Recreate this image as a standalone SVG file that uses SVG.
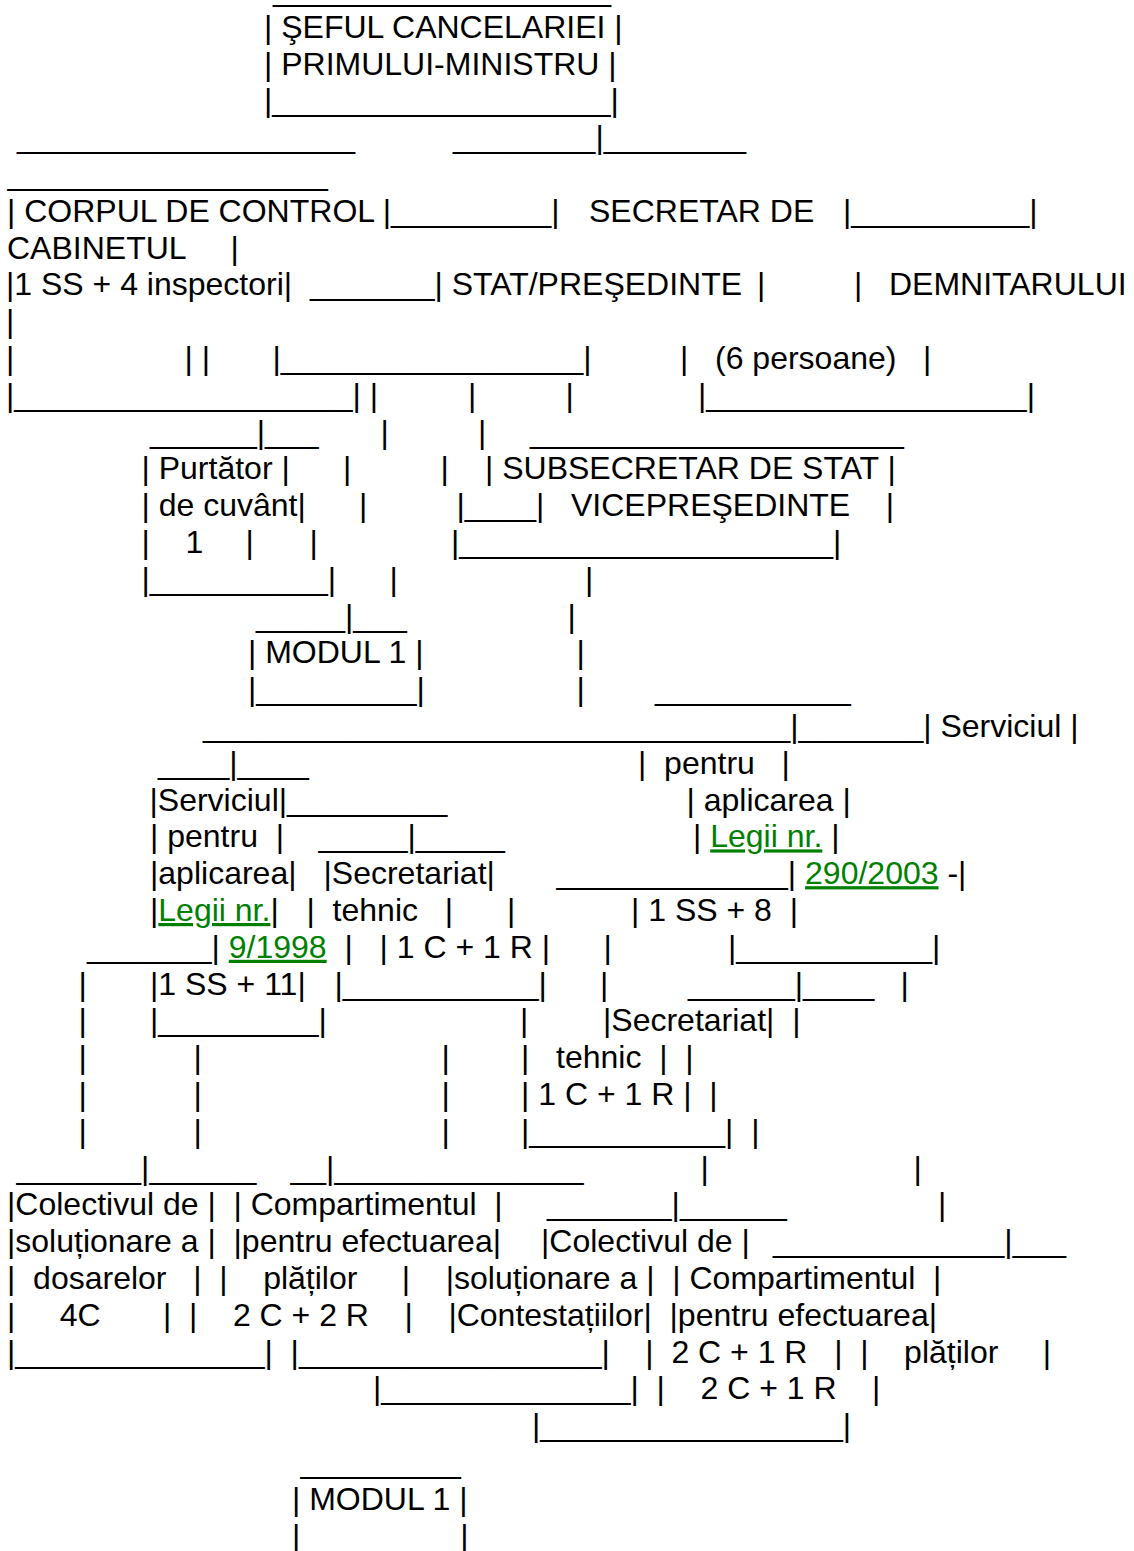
<svg xmlns="http://www.w3.org/2000/svg" width="1134" height="1551" viewBox="0 0 1134 1551">
<style>
text { font-family: "Liberation Sans", Arial, sans-serif; font-size: 32px; fill: #000000; white-space: pre; }
.lk { fill: #008000; text-decoration: underline; }
</style>
<rect x="0" y="0" width="1134" height="1551" fill="#ffffff"/>
<g id="org-chart-ascii">
<text id="r00" y="1"><tspan x="273">___________________</tspan></text>
<text id="r01" y="37.8"><tspan x="264">| ŞEFUL CANCELARIEI |</tspan></text>
<text id="r02" y="74.6"><tspan x="264">| PRIMULUI-MINISTRU |</tspan></text>
<text id="r03" y="111.4"><tspan x="264">|___________________|</tspan></text>
<text id="r04" y="148.2"><tspan x="17">___________________</tspan><tspan x="453">________|________</tspan></text>
<text id="r05" y="185"><tspan x="7.5">__________________</tspan></text>
<text id="r06" y="221.8"><tspan x="7">| CORPUL DE CONTROL |_________|</tspan><tspan x="589">SECRETAR DE</tspan><tspan x="843">|__________|</tspan></text>
<text id="r07" y="258.6"><tspan x="7">CABINETUL</tspan><tspan x="230.5">|</tspan></text>
<text id="r08" y="295.4"><tspan x="6">|1 SS + 4 inspectori|  _______| STAT/PREŞEDINTE</tspan><tspan x="757">|</tspan><tspan x="854">|   DEMNITARULUI</tspan></text>
<text id="r09" y="332.2"><tspan x="6">|</tspan></text>
<text id="r10" y="369"><tspan x="6">|</tspan><tspan x="184.5">| |</tspan><tspan x="272.5">|_________________|</tspan><tspan x="680">|   (6 persoane)   |</tspan></text>
<text id="r11" y="405.8"><tspan x="6">|___________________| |</tspan><tspan x="468">|</tspan><tspan x="565.5">|</tspan><tspan x="698">|__________________|</tspan></text>
<text id="r12" y="442.6"><tspan x="150">______|___</tspan><tspan x="380.5">|</tspan><tspan x="478">|</tspan><tspan x="530">_____________________</tspan></text>
<text id="r13" y="479.4"><tspan x="141.5">| Purtător |</tspan><tspan x="343">|</tspan><tspan x="440.5">|</tspan><tspan x="485">| SUBSECRETAR DE STAT |</tspan></text>
<text id="r14" y="516.2"><tspan x="141.5">| de cuvânt|</tspan><tspan x="359">|</tspan><tspan x="456.5">|____|   VICEPREŞEDINTE    |</tspan></text>
<text id="r15" y="553"><tspan x="141.5">|    1</tspan><tspan x="245.5">|</tspan><tspan x="309.5">|</tspan><tspan x="451">|_____________________|</tspan></text>
<text id="r16" y="589.8"><tspan x="141.5">|__________|</tspan><tspan x="389.5">|</tspan><tspan x="585">|</tspan></text>
<text id="r17" y="626.6"><tspan x="256">_____|___</tspan><tspan x="567.5">|</tspan></text>
<text id="r18" y="663.4"><tspan x="248">| MODUL 1 |</tspan><tspan x="576.5">|</tspan></text>
<text id="r19" y="700.2"><tspan x="248">|_________|</tspan><tspan x="576.5">|</tspan><tspan x="655">___________</tspan></text>
<text id="r20" y="737"><tspan x="203">_________________________________|_______| Serviciul |</tspan></text>
<text id="r21" y="773.8"><tspan x="158">____|____</tspan><tspan x="638">|  pentru   |</tspan></text>
<text id="r22" y="810.6"><tspan x="149.5">|Serviciul|_________</tspan><tspan x="686.5">| aplicarea |</tspan></text>
<text id="r23" y="847.4"><tspan x="150">| pentru  |</tspan><tspan x="318.5">_____|_____</tspan><tspan x="693">| </tspan><tspan class="lk">Legii nr.</tspan><tspan> |</tspan></text>
<text id="r24" y="884.2"><tspan x="150">|aplicarea|</tspan><tspan x="323.5">|Secretariat|</tspan><tspan x="556.5">_____________| </tspan><tspan class="lk">290/2003</tspan><tspan> -|</tspan></text>
<text id="r25" y="921"><tspan x="150">|</tspan><tspan class="lk">Legii nr.</tspan><tspan>|</tspan><tspan x="306.5">|  tehnic   |</tspan><tspan x="507">|</tspan><tspan x="631">| 1 SS + 8  |</tspan></text>
<text id="r26" y="957.8"><tspan x="87">_______| </tspan><tspan class="lk">9/1998</tspan><tspan>  |</tspan><tspan x="379.5">| 1 C + 1 R |</tspan><tspan x="603.5">|</tspan><tspan x="728">|___________|</tspan></text>
<text id="r27" y="994.6"><tspan x="78.5">|</tspan><tspan x="150">|1 SS + 11|</tspan><tspan x="334.5">|___________|</tspan><tspan x="600">|</tspan><tspan x="688">______|____</tspan><tspan x="900.5">|</tspan></text>
<text id="r28" y="1031.4"><tspan x="78.5">|</tspan><tspan x="150">|_________|</tspan><tspan x="520">|</tspan><tspan x="603">|Secretariat|  |</tspan></text>
<text id="r29" y="1068.2"><tspan x="78.5">|</tspan><tspan x="193.5">|</tspan><tspan x="441.5">|</tspan><tspan x="521">|   tehnic  |  |</tspan></text>
<text id="r30" y="1105"><tspan x="78.5">|</tspan><tspan x="193.5">|</tspan><tspan x="441.5">|</tspan><tspan x="521">| 1 C + 1 R |  |</tspan></text>
<text id="r31" y="1141.8"><tspan x="78.5">|</tspan><tspan x="193.5">|</tspan><tspan x="441.5">|</tspan><tspan x="521">|___________|  |</tspan></text>
<text id="r32" y="1178.6"><tspan x="16.5">_______|______</tspan><tspan x="290.5">__|______________</tspan><tspan x="700.5">|</tspan><tspan x="913.5">|</tspan></text>
<text id="r33" y="1215.4"><tspan x="7">|Colectivul de |  | Compartimentul  |</tspan><tspan x="547">_______|______</tspan><tspan x="938">|</tspan></text>
<text id="r34" y="1252.2"><tspan x="7">|soluționare a |  |pentru efectuarea|</tspan><tspan x="541">|Colectivul de |</tspan><tspan x="773">_____________|___</tspan></text>
<text id="r35" y="1289"><tspan x="7">|  dosarelor   |  |    plăților     |    |soluționare a |  | Compartimentul  |</tspan></text>
<text id="r36" y="1325.8"><tspan x="7">|     4C       |  |    2 C + 2 R    |    |Contestațiilor|  |pentru efectuarea|</tspan></text>
<text id="r37" y="1362.6"><tspan x="7">|______________|  |_________________|    |  2 C + 1 R   |  |    plăților     |</tspan></text>
<text id="r38" y="1399.4"><tspan x="373">|______________|  |    2 C + 1 R    |</tspan></text>
<text id="r39" y="1436.2"><tspan x="532">|_________________|</tspan></text>
<text id="r40" y="1473"><tspan x="300.5">_________</tspan></text>
<text id="r41" y="1509.8"><tspan x="292">| MODUL 1 |</tspan></text>
<text id="r42" y="1546.6"><tspan x="292">|                  |</tspan></text>
</g>
</svg>
